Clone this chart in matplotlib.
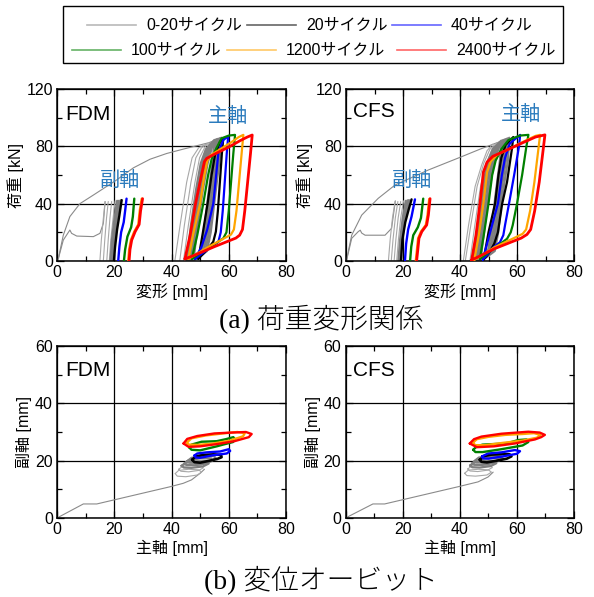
import matplotlib
matplotlib.use('Agg')
import matplotlib.pyplot as plt
from matplotlib.lines import Line2D
from matplotlib.patches import Rectangle
from matplotlib.ticker import MultipleLocator

plt.rcParams['font.family'] = ['Liberation Sans', 'Noto Sans CJK JP']

# ---------------- series definitions ----------------
CYCLES = ['0-20サイクル', '20サイクル', '40サイクル', '100サイクル', '1200サイクル', '2400サイクル']
COLORS = ['#8a8a8a', '#000000', '#0000ff', '#008000', '#ffa500', '#ff0000']
LIGHT_GRAY = '#a8a8a8'

PANEL_NAMES = ['FDM', 'CFS']
AXIS_LABELS = ['主軸', '副軸']

# ---------------- (a) load-deformation, FDM ----------------
FDM_MAIN_INIT = [(0, 0), (0.5, 2), (2.2, 18), (4.5, 31), (8, 40), (12.7, 46), (20.8, 56.5), (26.7, 65),
                 (32.5, 71), (38.3, 75), (44, 78), (50, 81), (53, 82.5), (55.5, 84.5)]
FDM_MINOR_INIT = [(0, 0), (0.5, 1.9), (2.2, 14.6), (4.5, 21.6), (5.1, 19.3), (6.9, 17.4), (12.7, 17),
                  (15, 19.3), (16.2, 26.3), (16.8, 41.4)]
FDM_MAIN_GRAY_THIN = [
    [(41.2, 0.5), (43, 25), (45.3, 55), (47.2, 72), (49.5, 79), (52, 81.5)],
    [(42.9, 0.5), (44.5, 25), (46.8, 55), (48.5, 72), (50.5, 79), (53, 82.5)],
    [(44.2, 0.5), (45.9, 25), (48.2, 55), (49.8, 72), (51.8, 80), (54.5, 83.5)],
]
FDM_MAIN_GRAY = [
    [(45.3, 0.5), (46.8, 25), (48.6, 50), (50.2, 68), (52, 78), (55, 84.5), (54.5, 72), (52.8, 45), (51.3, 20), (50, 7), (47.2, 2.5), (45.3, 0.5)],
    [(45.9, 0.5), (47.3, 25), (49.2, 50), (50.8, 68), (52.7, 79), (55.7, 85), (55.2, 72), (53.4, 45), (51.9, 20), (50.6, 7), (47.8, 2.5), (45.9, 0.5)],
    [(46.5, 0.5), (47.9, 25), (49.8, 50), (51.4, 68), (53.3, 80), (56.3, 85.3), (55.8, 72), (54, 45), (52.5, 20), (51.2, 7), (48.4, 2.5), (46.5, 0.5)],
    [(47.1, 0.5), (48.5, 25), (50.4, 50), (52, 68), (53.9, 81), (56.9, 85.6), (56.4, 72), (54.6, 45), (53.1, 20), (51.8, 7), (49, 2.5), (47.1, 0.5)],
    [(47.7, 0.5), (49.1, 25), (51, 50), (52.6, 68), (54.5, 82), (57.4, 86), (56.9, 72), (55.2, 45), (53.7, 20), (52.4, 7), (49.6, 2.5), (47.7, 0.5)],
]
FDM_MAIN_20 = [(49.4, 1.5), (50.8, 18), (52.6, 40), (54, 60), (55.2, 74), (56.9, 83), (58.1, 85.8), (57.6, 75), (56.9, 55), (56.2, 35), (55.5, 20.5), (54.6, 13.5), (52.5, 8), (49.4, 1.5)]
FDM_MAIN_40 = [(48.3, 1.5), (50.5, 10), (52.5, 22), (54.6, 40), (55.6, 60), (56.4, 76), (58.1, 84.4), (59.8, 87), (59.3, 75), (58.6, 55), (57.9, 35), (57.2, 20), (56.4, 13.5), (54, 10), (50.5, 5), (48.3, 1.5)]
FDM_MAIN_100 = [(47.1, 1.5), (49, 18), (51.1, 40), (52.8, 60), (54, 71), (55.5, 78), (57.5, 85.6), (60, 87.5), (62.2, 88), (61.6, 75), (60.8, 55), (60, 35), (59.2, 20), (58.1, 15.8), (56, 13), (51, 7), (47.1, 1.5)]
FDM_MAIN_1200 = [(45.9, 1.5), (47.5, 18), (50, 40), (51.5, 60), (52.5, 70), (53.5, 73.5), (57, 78), (61, 83), (63.5, 86.5), (65.1, 88), (64.5, 75), (63.6, 55), (62.7, 35), (61.8, 22), (60.8, 18.5), (59.5, 17), (53, 10), (48, 4), (45.9, 1.5)]
FDM_MAIN_2400 = [(44.7, 1.5), (46.5, 18), (48.4, 40), (50, 55.3), (51.5, 69.3), (52.3, 71.6), (55, 74.5), (60, 79.5), (64, 84), (66.5, 86.5), (68.2, 87.9), (67.6, 75), (66.6, 55), (65.6, 35), (64.8, 22), (63.8, 18), (62.5, 16), (55, 10), (48, 4), (44.7, 1.5)]
FDM_MINOR_GRAY_THIN = [
    [(15.0, 0.5), (15.5, 15), (16.2, 30), (16.8, 41.5)],
    [(16.2, 0.5), (16.7, 15), (17.3, 30), (17.9, 41.5)],
    [(17.4, 0.5), (17.9, 15), (18.5, 30), (19.1, 41.5)],
    [(18.3, 0.5), (18.8, 15), (19.6, 30), (20.3, 42)],
]
FDM_MINOR_GRAY = [
    [(18.7, 0.5), (19.2, 15), (20.1, 30), (21.0, 42)],
    [(19.1, 0.5), (19.7, 15), (20.6, 30), (21.6, 42)],
    [(19.5, 0.5), (20.1, 15), (21.0, 30), (22.2, 42.3)],
]
FDM_MINOR_20 = [(19.9, 0.5), (20.3, 10), (21.0, 22), (21.8, 32), (22.6, 42.5)]
FDM_MINOR_40 = [(21.4, 0.5), (21.8, 10), (22.4, 20), (23.3, 27), (23.8, 35), (24.3, 43.5)]
FDM_MINOR_100 = [(23.4, 0.5), (23.8, 8), (24.6, 17), (25.9, 23.5), (26.5, 31), (27.0, 43.5)]
FDM_MINOR_1200 = [(24.9, 0.5), (25.2, 8), (25.8, 14.6), (27.0, 20.5), (28.4, 25.5), (28.9, 35), (29.6, 43.5)]
FDM_MINOR_2400 = [(25.2, 0.5), (25.5, 8), (26.1, 14.6), (27.3, 20.5), (28.7, 25.5), (29.2, 35), (29.9, 43.5)]

# ---------------- (a) load-deformation, CFS ----------------
CFS_MAIN_INIT = [(0, 0), (0.2, 1), (2, 18), (5.5, 32), (11.3, 43.7), (17.2, 53), (28.9, 63.5), (40.6, 72.8),
                 (47, 78), (52.3, 82), (55, 84)]
CFS_MINOR_INIT = [(0, 0), (0.5, 3), (2, 15.8), (4.3, 20.5), (5, 21.5), (5.5, 19.5), (6.7, 18), (13.7, 18),
                  (16, 22.8), (17.2, 40.2), (17.3, 42)]
CFS_MAIN_GRAY_THIN = [
    [(41.2, 0.5), (43.0, 25), (45.3, 52), (47.6, 67), (49.5, 77), (51.5, 81.5)],
    [(41.9, 0.5), (43.8, 25), (46, 52), (48.3, 68), (50.5, 78), (53, 82.5)],
    [(43.5, 0.5), (45.2, 25), (47.2, 52), (49.2, 68), (51.5, 79), (54, 83.5)],
]
CFS_MAIN_GRAY = [
    [(44.8, 0.5), (46.3, 25), (48, 50), (49.4, 68), (51.5, 78), (54.5, 84), (54.0, 70), (52.4, 45), (51, 20), (49.8, 7), (46.8, 2.5), (44.8, 0.5)],
    [(45.4, 0.5), (46.9, 25), (48.6, 50), (50, 68), (52, 78.5), (55.2, 84.5), (54.7, 70), (53, 45), (51.6, 20), (50.4, 7), (47.4, 2.5), (45.4, 0.5)],
    [(46, 0.5), (47.5, 25), (49.2, 50), (50.6, 68), (52.6, 79), (55.9, 85), (55.4, 70), (53.6, 45), (52.2, 20), (51, 7), (48, 2.5), (46, 0.5)],
    [(46.6, 0.5), (48.1, 25), (49.8, 50), (51.2, 68), (53.2, 79.5), (56.6, 85.5), (56.1, 70), (54.2, 45), (52.8, 20), (51.6, 7), (48.6, 2.5), (46.6, 0.5)],
    [(47.2, 0.5), (48.7, 25), (50.4, 50), (51.8, 68), (53.8, 80), (57.3, 86), (56.8, 70), (54.8, 45), (53.4, 20), (52.2, 7), (49.2, 2.5), (47.2, 0.5)],
]
CFS_MAIN_20 = [(48.3, 1), (50, 20), (52.3, 40), (53.5, 60), (54.5, 72), (56, 81), (58.7, 86.5), (58.2, 78), (56.5, 55), (54.8, 40), (53.3, 20), (52, 12), (50, 5), (48.3, 1)]
CFS_MAIN_40 = [(48, 1), (50.3, 18), (53.3, 40), (54.7, 60), (55.8, 72), (57.5, 82), (61.1, 88), (60.7, 80), (59, 60), (57.2, 40), (55.8, 25), (55.2, 18), (54, 13), (52, 10), (48, 1)]
CFS_MAIN_100 = [(47, 1.5), (48.5, 20), (50, 40), (51.3, 60), (52.5, 70), (54.5, 78), (57, 84.4), (61, 87.5), (64, 88), (63.3, 80), (61.8, 60), (60, 40), (58.5, 25), (57.8, 20), (56.5, 15.5), (54.5, 12.5), (50, 6), (47, 1.5)]
CFS_MAIN_1200 = [(45, 0.8), (46.6, 18), (48.2, 40), (49.5, 62), (50.8, 69.5), (53, 74), (58, 79), (63.5, 84.5), (66.5, 87.3), (68.1, 88), (67.5, 78), (66.1, 55), (64.6, 35), (63.2, 22), (62, 19), (60, 17), (52, 9.5), (46.5, 2.5), (45, 0.8)]
CFS_MAIN_2400 = [(44.1, 0.7), (45.6, 18), (47, 40), (48.2, 62), (49.5, 69), (51.5, 73), (56, 77), (62, 82.5), (66.5, 86.5), (69.8, 88), (69.2, 78), (67.8, 55), (66.2, 35), (64.8, 22), (63.5, 18.5), (61.5, 16), (52, 8.5), (46, 2.5), (44.1, 0.7)]
CFS_MINOR_GRAY_THIN = [
    [(14.9, 0.5), (15.5, 15), (16.3, 30), (17.2, 41.5)],
    [(15.9, 0.5), (16.5, 15), (17.3, 30), (18.2, 41.5)],
    [(16.9, 0.5), (17.5, 15), (18.3, 30), (19.2, 41.5)],
    [(17.8, 0.5), (18.4, 15), (19.2, 30), (20.2, 42)],
]
CFS_MINOR_GRAY = [
    [(18.4, 0.5), (19, 15), (19.9, 30), (21, 42)],
    [(18.8, 0.5), (19.4, 15), (20.4, 30), (21.6, 42.3)],
    [(19.1, 0.5), (19.7, 15), (20.8, 30), (22.1, 42.5)],
]
CFS_MINOR_20 = [(19.3, 0.5), (19.8, 15), (20.8, 27), (22.0, 36), (23.0, 43)]
CFS_MINOR_40 = [(20.7, 0.5), (21.1, 12), (21.8, 22), (23.0, 31), (24.2, 43)]
CFS_MINOR_100 = [(22.5, 0.5), (22.9, 10), (23.6, 18), (25.2, 23.5), (26.3, 30), (27.1, 43.5)]
CFS_MINOR_1200 = [(24.5, 0.5), (24.9, 8), (25.3, 15.8), (26.3, 20.5), (28.0, 25.1), (28.6, 32), (29.2, 43.3)]
CFS_MINOR_2400 = [(24.8, 0.5), (25.2, 8), (25.6, 15.8), (26.6, 20.5), (28.3, 25.1), (28.9, 32), (29.5, 43.5)]

# ---------------- (b) displacement orbits ----------------
FDM_ORBIT_INIT = [(0, 0), (9.2, 4.9), (13.9, 4.9), (39.5, 10.9), (44.1, 12.1), (47, 13.3), (50, 15.6), (51.5, 17)]
FDM_ORBIT_GRAY_THIN = [
    [(41.3, 15.5), (42.5, 16.6), (46, 17.0), (49.5, 16.8), (50.5, 16.0), (49, 15.0), (45, 14.4), (42, 14.6), (41.3, 15.5)],
    [(42.5, 17.0), (44, 18.1), (47.5, 18.4), (50.5, 18.2), (51.1, 17.5), (49.5, 16.6), (46, 16.1), (43.3, 16.3), (42.5, 17.0)],
]
FDM_ORBIT_GRAY = [
    [(43.5, 18.2), (45, 19.3), (49, 19.8), (52.5, 19.8), (53, 19.0), (51, 18.0), (47, 17.5), (44.3, 17.6), (43.5, 18.2)],
    [(44.5, 19.0), (46, 20.2), (50, 20.8), (53.8, 20.8), (54.3, 20.0), (52, 19.0), (48, 18.4), (45.3, 18.5), (44.5, 19.0)],
    [(45.5, 19.8), (47, 21.0), (51, 21.5), (54.8, 21.6), (55.5, 20.8), (53, 19.8), (49, 19.2), (46.3, 19.3), (45.5, 19.8)],
]
FDM_ORBIT_20 = [(47.2, 20.3), (48.5, 21.5), (51, 22.0), (54.6, 22.2), (57.3, 22.0), (57.5, 21.2), (56, 20.6), (53.4, 20.0), (50, 19.3), (48, 19.5), (47.2, 20.3)]
FDM_ORBIT_40 = [(48.0, 21.8), (49, 22.5), (52.3, 22.9), (57, 23.2), (60, 24.0), (60.5, 23.4), (59.3, 22.5), (54.6, 21.9), (50, 21.0), (48.5, 21.1), (48.0, 21.8)]
FDM_ORBIT_100 = [(46.3, 24.5), (47, 25.6), (50.5, 26.6), (55.8, 26.8), (59, 27.5), (61.6, 28.2), (62.2, 27.4), (61.5, 26.5), (58, 25.6), (55.8, 25.0), (50, 23.6), (47, 23.8), (46.3, 24.5)]
FDM_ORBIT_1200 = [(45.3, 26.3), (47, 27.8), (52, 28.8), (58, 29.5), (63, 30.0), (65.6, 29.6), (65, 28.5), (60, 26.9), (54, 25.9), (49, 25.5), (46, 25.6), (45.3, 26.3)]
FDM_ORBIT_2400 = [(44.2, 26.0), (45.5, 27.6), (49, 28.6), (55, 29.5), (61, 29.8), (66, 30.0), (68, 29.3), (67, 28.2), (62, 26.8), (56, 25.8), (50, 25.0), (46, 24.8), (44.2, 26.0)]

CFS_ORBIT_INIT = [(0, 0), (9.6, 4.9), (13.7, 4.9), (39.4, 10.9), (46.4, 12.6), (49.9, 14.3), (51.7, 16)]
CFS_ORBIT_GRAY_THIN = [
    [(41.7, 15.6), (43, 16.7), (46.5, 17.0), (50, 16.8), (51.1, 16.0), (49.5, 15.0), (45.5, 14.6), (42.5, 14.8), (41.7, 15.6)],
    [(42.8, 17.1), (44.3, 18.2), (47.8, 18.5), (50.8, 18.3), (51.4, 17.6), (49.8, 16.7), (46.3, 16.2), (43.6, 16.4), (42.8, 17.1)],
]
CFS_ORBIT_GRAY = [
    [(43.6, 18.3), (45.1, 19.4), (49, 19.9), (52.3, 19.9), (52.8, 19.1), (50.8, 18.1), (47, 17.6), (44.4, 17.7), (43.6, 18.3)],
    [(44.4, 19.1), (45.9, 20.3), (49.8, 20.9), (53.4, 20.9), (53.9, 20.1), (51.6, 19.1), (47.8, 18.5), (45.2, 18.6), (44.4, 19.1)],
    [(45.2, 19.9), (46.7, 21.1), (50.6, 21.6), (54.3, 21.7), (55, 20.9), (52.6, 19.9), (48.7, 19.3), (46, 19.4), (45.2, 19.9)],
]
CFS_ORBIT_20 = [(47, 20.3), (48.5, 21.6), (51, 22.1), (54.5, 22.3), (57.5, 22.2), (58.1, 21.5), (56.5, 20.7), (53, 20.0), (49.5, 19.4), (47.6, 19.6), (47, 20.3)]
CFS_ORBIT_40 = [(47.8, 21.5), (49.9, 22.5), (54.6, 22.9), (59.3, 23.7), (61.1, 23.3), (60, 22.4), (54.6, 21.4), (50, 20.7), (48.2, 20.8), (47.8, 21.5)]
CFS_ORBIT_100 = [(44.7, 23.8), (46, 25.0), (48, 25.6), (54, 25.9), (57, 26.2), (60.5, 27.2), (63.4, 27.4), (64, 26.5), (62, 25.3), (58, 24.6), (54.6, 24.0), (48, 23.0), (45.5, 23.0), (44.7, 23.8)]
CFS_ORBIT_1200 = [(44.5, 26.2), (46, 27.5), (50, 28.3), (56, 29.0), (62, 29.3), (66, 29.6), (68.3, 29.0), (67, 28.0), (62, 27.0), (55, 26.2), (49, 25.4), (45.5, 25.4), (44.5, 26.2)]
CFS_ORBIT_2400 = [(43.5, 26.0), (45, 27.5), (47.6, 28.4), (54.6, 29.4), (60, 29.8), (64, 30.1), (68, 29.8), (69.8, 29.0), (68.5, 28.2), (66.3, 27.4), (59.3, 26.0), (52, 25.0), (46, 24.7), (43.5, 26.0)]

# axis text
XLABEL_A = '変形 [mm]'
YLABEL_A = '荷重 [kN]'
XLABEL_B = '主軸 [mm]'
YLABEL_B = '副軸 [mm]'
CAPTION_A = '(a) 荷重変形関係'
CAPTION_B = '(b) 変位オービット'

# annotation positions (data coords) for 主軸 / 副軸 labels
FDM_TAG_POS = [(59.7, 101), (22, 56)]
CFS_TAG_POS = [(61.4, 102), (23.3, 56.5)]

# ---------------- figure ----------------
W, H = 594, 597
fig = plt.figure(figsize=(W / 100, H / 100), dpi=100)


def fx(px):
    return px / W


def fy(py):
    return 1 - py / H


def make_ax(l, t, r, b):
    return fig.add_axes([fx(l), fy(b), fx(r) - fx(l), fy(t) - fy(b)])


def style(ax, xmax, ymax, xmaj, xmin, ymaj, ymin):
    ax.set_xlim(0, xmax)
    ax.set_ylim(0, ymax)
    ax.xaxis.set_major_locator(MultipleLocator(xmaj))
    ax.xaxis.set_minor_locator(MultipleLocator(xmin))
    ax.yaxis.set_major_locator(MultipleLocator(ymaj))
    ax.yaxis.set_minor_locator(MultipleLocator(ymin))
    ax.grid(True, which='major', color='black', lw=0.9)
    ax.tick_params(which='both', direction='in', top=True, right=True, labelsize=11.5, pad=3)
    ax.tick_params(which='major', length=5, width=0.9)
    ax.tick_params(which='minor', length=3.5, width=0.9)
    for s in ax.spines.values():
        s.set_linewidth(1.1)


def line(ax, pts, color, lw, z=2):
    xs = [p[0] for p in pts]
    ys = [p[1] for p in pts]
    ax.plot(xs, ys, color=color, lw=lw, zorder=z, solid_joinstyle='round', solid_capstyle='round')


top_axes = [make_ax(57, 89, 286, 261), make_ax(346, 89, 574, 261)]
bot_axes = [make_ax(57, 346, 286, 518), make_ax(345.5, 346, 574, 518)]

top_data = [
    (FDM_MAIN_INIT, FDM_MINOR_INIT, FDM_MAIN_GRAY_THIN, FDM_MAIN_GRAY, FDM_MINOR_GRAY_THIN, FDM_MINOR_GRAY,
     [FDM_MAIN_20, FDM_MAIN_40, FDM_MAIN_100, FDM_MAIN_1200, FDM_MAIN_2400],
     [FDM_MINOR_20, FDM_MINOR_40, FDM_MINOR_100, FDM_MINOR_1200, FDM_MINOR_2400], FDM_TAG_POS),
    (CFS_MAIN_INIT, CFS_MINOR_INIT, CFS_MAIN_GRAY_THIN, CFS_MAIN_GRAY, CFS_MINOR_GRAY_THIN, CFS_MINOR_GRAY,
     [CFS_MAIN_20, CFS_MAIN_40, CFS_MAIN_100, CFS_MAIN_1200, CFS_MAIN_2400],
     [CFS_MINOR_20, CFS_MINOR_40, CFS_MINOR_100, CFS_MINOR_1200, CFS_MINOR_2400], CFS_TAG_POS),
]
name_base = [(0.035, 0.82), (0.032, 0.84)]

for i, ax in enumerate(top_axes):
    (m_init, n_init, m_thin, m_gray, n_thin, n_gray, m_loops, n_loops, tags) = top_data[i]
    style(ax, 80, 120, 20, 10, 40, 20)
    line(ax, m_init, COLORS[0], 0.8)
    line(ax, n_init, COLORS[0], 0.8)
    for pts in m_thin + n_thin:
        line(ax, pts, LIGHT_GRAY, 0.8)
    for pts in m_gray + n_gray:
        line(ax, pts, '#7f7f7f', 1.6)
    for k, pts in enumerate(m_loops):
        line(ax, pts, COLORS[k + 1], 2.0 if k == 4 else 1.6, z=3 + k)
    for k, pts in enumerate(n_loops):
        line(ax, pts, COLORS[k + 1], 2.0 if k == 4 else 1.7, z=3 + k)
    ax.text(name_base[i][0], name_base[i][1], PANEL_NAMES[i], transform=ax.transAxes,
            fontsize=15, ha='left', va='baseline', zorder=10)
    for j, (tx, ty) in enumerate(tags):
        ax.text(tx, ty, AXIS_LABELS[j], color='#2b7bbd', fontsize=14.5, ha='center', va='center',
                family=['Noto Sans CJK JP'], zorder=10)
    ax.set_xlabel(XLABEL_A, fontsize=11.5, labelpad=2)
    ax.set_ylabel(YLABEL_A, fontsize=11.5, labelpad=2)

bot_data = [
    (FDM_ORBIT_INIT, FDM_ORBIT_GRAY_THIN, FDM_ORBIT_GRAY,
     [FDM_ORBIT_20, FDM_ORBIT_40, FDM_ORBIT_100, FDM_ORBIT_1200, FDM_ORBIT_2400]),
    (CFS_ORBIT_INIT, CFS_ORBIT_GRAY_THIN, CFS_ORBIT_GRAY,
     [CFS_ORBIT_20, CFS_ORBIT_40, CFS_ORBIT_100, CFS_ORBIT_1200, CFS_ORBIT_2400]),
]
for i, ax in enumerate(bot_axes):
    init, thin, gray, loops = bot_data[i]
    style(ax, 80, 60, 20, 10, 20, 10)
    line(ax, init, COLORS[0], 0.8)
    for pts in thin:
        line(ax, pts, LIGHT_GRAY, 0.8)
    for pts in gray:
        line(ax, pts, '#7f7f7f', 1.6)
    for k, pts in enumerate(loops):
        line(ax, pts, COLORS[k + 1], 1.9 if k == 0 else 1.7, z=3 + k)
    ax.text(0.035, 0.827, PANEL_NAMES[i], transform=ax.transAxes,
            fontsize=15, ha='left', va='baseline', zorder=10)
    ax.set_xlabel(XLABEL_B, fontsize=11.5, labelpad=2)
    ax.set_ylabel(YLABEL_B, fontsize=11.5, labelpad=2)

# ---------------- legend (manual, two centred rows) ----------------
fig.patches.append(Rectangle((fx(63), fy(63)), fx(563) - fx(63), fy(6) - fy(63),
                             transform=fig.transFigure, fill=False, edgecolor='black', lw=1.0))
LEG_ROW_Y = [25, 50]
LEG_START = [[87, 247, 392], [72, 227, 397]]
LEG_LEN = 49
for r in range(2):
    for c in range(3):
        idx = r * 3 + c
        x0 = LEG_START[r][c]
        y = LEG_ROW_Y[r]
        fig.lines.append(Line2D([fx(x0), fx(x0 + LEG_LEN)], [fy(y), fy(y)], transform=fig.transFigure,
                                color=COLORS[idx], lw=1.2, alpha=0.6))
        fig.text(fx(x0 + LEG_LEN + 10), fy(y), CYCLES[idx], fontsize=11.5, ha='left', va='center')

# ---------------- captions ----------------
cap_family = ['Liberation Serif', 'Noto Sans CJK JP']
fig.text(0.541, fy(320), CAPTION_A, fontsize=20, ha='center', va='center', family=cap_family,
         fontweight='light')
fig.text(0.540, fy(580), CAPTION_B, fontsize=20, ha='center', va='center', family=cap_family,
         fontweight='light')

fig.savefig('out.png', dpi=100)
